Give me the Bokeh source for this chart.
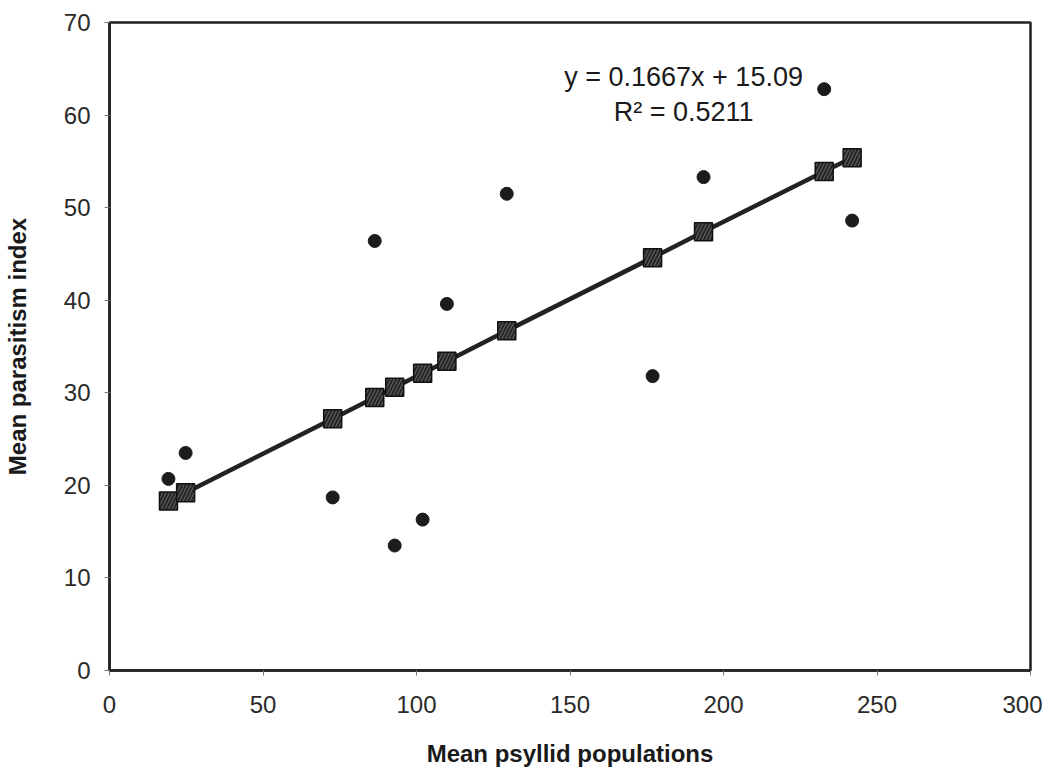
from bokeh.plotting import figure
from bokeh.models import Range1d, FixedTicker, Label
from bokeh.embed import file_html
from bokeh.resources import INLINE

psyllid = [19.2, 24.8, 72.7, 86.4, 92.9, 102.0, 109.9, 129.4, 176.9, 193.5, 232.8, 241.9]
parasitism = [20.7, 23.5, 18.7, 46.4, 13.5, 16.3, 39.6, 51.5, 31.8, 53.3, 62.8, 48.6]
# Fitted trend values
fitted = [18.3, 19.2, 27.2, 29.5, 30.6, 32.1, 33.4, 36.7, 44.6, 47.4, 53.9, 55.4]

x_ticks = [0, 50, 100, 150, 200, 250, 300]
y_ticks = [0, 10, 20, 30, 40, 50, 60, 70]
eq_text = "y = 0.1667x + 15.09"
r2_text = "R\u00b2 = 0.5211"

FONT = "Liberation Sans"

p = figure(width=1042, height=769, output_backend="svg", toolbar_location=None,
           x_range=Range1d(0, 300), y_range=Range1d(0, 70),
           min_border_left=107, min_border_right=12, min_border_top=22, min_border_bottom=99)
p.background_fill_color = "#ffffff"
p.border_fill_color = "#ffffff"
p.outline_line_color = "#222222"
p.outline_line_width = 2.5
p.xgrid.visible = False
p.ygrid.visible = False

for ax in (p.xaxis[0], p.yaxis[0]):
    ax.axis_line_color = "#222222"
    ax.axis_line_width = 2.5
    ax.major_tick_line_color = "#777777"
    ax.major_tick_out = 5
    ax.major_tick_in = 0
    ax.minor_tick_line_color = None
    ax.major_label_text_font = FONT
    ax.major_label_text_font_size = "24px"
    ax.major_label_text_color = "#2a2a2a"
    ax.axis_label_text_font = FONT
    ax.axis_label_text_font_size = "24px"
    ax.axis_label_text_font_style = "bold"
    ax.axis_label_text_color = "#1a1a1a"

p.xaxis[0].ticker = FixedTicker(ticks=x_ticks)
p.yaxis[0].ticker = FixedTicker(ticks=y_ticks)
p.xaxis[0].axis_label = "Mean psyllid populations"
p.yaxis[0].axis_label = "Mean parasitism index"
p.xaxis[0].major_label_standoff = 20
p.xaxis[0].axis_label_standoff = 24
p.yaxis[0].major_label_standoff = 14
p.yaxis[0].axis_label_standoff = 30

# trend line and fitted markers
p.line(psyllid, fitted, line_color="#222222", line_width=4.5)
p.scatter(psyllid, fitted, marker="square", size=18, fill_color="#262626",
          line_color="#111111", line_width=1.5,
          hatch_pattern="right_diagonal_line", hatch_color="#6a6a6a",
          hatch_scale=7, hatch_weight=1)

# observed points
p.scatter(psyllid, parasitism, marker="circle", size=13, fill_color="#1c1c1c",
          line_color="#1c1c1c")

p.add_layout(Label(x=187, y=64.1, text=eq_text, text_font=FONT, text_font_size="27px",
                   text_color="#1a1a1a", text_align="center", text_baseline="middle"))
p.add_layout(Label(x=187, y=60.3, text=r2_text, text_font=FONT, text_font_size="27px",
                   text_color="#1a1a1a", text_align="center", text_baseline="middle"))

open("out.html", "w").write(file_html(p, INLINE))
